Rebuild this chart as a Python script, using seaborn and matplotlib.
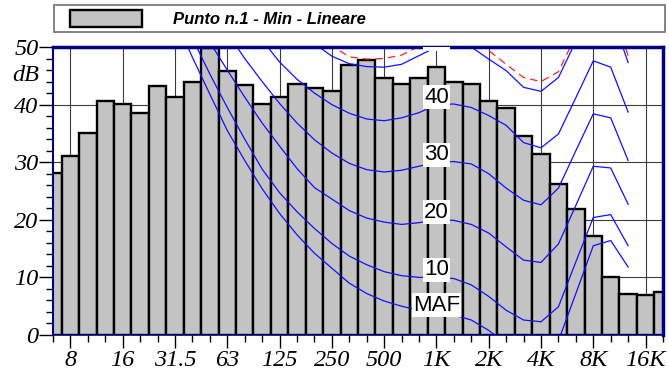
import numpy as np
import pandas as pd
import matplotlib
matplotlib.use("Agg")
import matplotlib.pyplot as plt
import seaborn as sns
from matplotlib.patches import Rectangle
from matplotlib.ticker import MultipleLocator, FixedLocator
from matplotlib import font_manager as fm

# ---------------- data ----------------
bands = ['6.3', '8', '10', '12.5', '16', '20', '25', '31.5', '40', '50', '63', '80',
         '100', '125', '160', '200', '250', '315', '400', '500', '630', '800',
         '1K', '1.25K', '1.6K', '2K', '2.5K', '3.15K', '4K', '5K', '6.3K', '8K',
         '10K', '12.5K', '16K', '20K']
levels_db = [28.1, 31.1, 35.0, 40.6, 40.1, 38.6, 43.3, 41.4, 44.0, 49.8, 45.8, 43.4,
             40.1, 41.3, 43.6, 42.9, 42.4, 46.8, 47.8, 44.6, 43.6, 44.7,
             46.6, 44.0, 43.5, 40.7, 39.4, 34.5, 31.4, 26.2, 21.9, 17.2,
             10.1, 7.2, 6.9, 7.5]

tick_labels = ['8', '16', '31.5', '63', '125', '250', '500', '1K', '2K', '4K', '8K', '16K']
yticks = [0, 10, 20, 30, 40, 50]

# equal-loudness contours (dB at consecutive 1/3-octave bands, from start band)
maf_start = '31.5'
maf_db = [55.0, 48.2, 41.8, 35.5, 30.3, 25.4, 21.1, 17.4, 14.2, 11.6, 9.0, 7.2, 5.9, 5.0,
          4.3, 3.9, 3.5, 2.6, 0.8, -1.5, -3.5, -4.5, -1.0, 7.2, 15.5, 16.4, 11.8]
iso10_start = '31.5'
iso10_db = [58.0, 51.5, 45.3, 39.5, 34.0, 28.8, 24.7, 21.4, 18.5, 15.9, 13.7, 12.2, 11.0, 10.3,
            10.0, 10.0, 9.8, 8.7, 6.7, 4.3, 2.6, 2.3, 4.9, 12.7, 20.4, 20.9, 15.5]
iso20_start = '40'
iso20_db = [57.0, 50.8, 46.0, 41.3, 36.8, 32.8, 28.9, 25.6, 23.6, 21.6, 20.3, 19.6, 19.2,
            19.5, 20.0, 19.9, 19.2, 17.7, 15.3, 13.0, 12.6, 15.8, 22.5, 29.3, 29.0, 22.7]
iso30_start = '50'
iso30_db = [57.0, 52.5, 48.0, 44.0, 40.2, 36.8, 33.9, 31.6, 29.8, 28.7, 28.3, 28.6, 29.3,
            30.0, 30.1, 29.7, 28.0, 25.5, 23.4, 22.6, 25.5, 32.0, 38.4, 37.7, 30.3]
iso40_start = '63'
iso40_db = [60.0, 55.5, 51.2, 47.4, 44.4, 42.0, 40.0, 38.5, 37.5, 37.2, 37.7, 38.6,
            40.0, 40.1, 39.5, 38.1, 36.4, 33.4, 32.5, 34.9, 41.2, 47.6, 46.5, 38.7]
iso50_start = '100'
iso50_db = [60.0, 56.5, 53.3, 50.6, 48.4, 47.1, 46.6, 46.5, 47.0, 48.5, 50.0, 51.3,
            50.0, 47.9, 45.9, 43.0, 42.3, 44.7, 51.0, 57.3, 56.0, 47.3]
loud_start = '160'
loud_db = [57.0, 52.5, 50.2, 48.3, 47.9, 48.0, 48.6, 50.1, 51.5, 52.8, 51.3, 49.4,
           47.0, 44.7, 44.0, 45.7, 52.0, 58.5, 57.3, 48.5]

contour_names = ['MAF', '10', '20', '30', '40', '50']
contour_starts = [maf_start, iso10_start, iso20_start, iso30_start, iso40_start, iso50_start]
contour_values = [maf_db, iso10_db, iso20_db, iso30_db, iso40_db, iso50_db]
label_band = '1K'
legend_label = 'Punto n.1 - Min - Lineare'


# ---------------- fonts ----------------
def find_font(families, style='normal', weight='normal'):
    for fam in families:
        try:
            path = fm.findfont(fm.FontProperties(family=fam, style=style, weight=weight),
                               fallback_to_default=False)
        except Exception:
            continue
        name = path.lower()
        ok_style = (style == 'normal') or ('italic' in name) or ('oblique' in name) or name.endswith('i.ttf')
        if ok_style:
            return fm.FontProperties(fname=path)
    return fm.FontProperties(family='DejaVu Serif', style=style, weight=weight)


serif_it = find_font(['Liberation Serif', 'Noto Serif', 'DejaVu Serif'], style='italic')
sans_bi = find_font(['Liberation Sans', 'Roboto', 'DejaVu Sans'], style='italic', weight='bold')
sans_bi.set_size(12)
sans_rg = fm.FontProperties(family='Liberation Sans')

# ---------------- figure ----------------
W, H = 669, 372
fig = plt.figure(figsize=(W / 100, H / 100), dpi=100)
ax = fig.add_axes([53 / W, 37 / H, 610 / W, 288 / H])

bar_color = '#c3c3c3'
df = pd.DataFrame({'band': bands, 'db': levels_db})
sns.barplot(data=df, x='band', y='db', order=bands, color=bar_color, saturation=1,
            width=1.0, edgecolor='black', linewidth=1.7, ax=ax, zorder=2)
for p in ax.patches:
    p.set_facecolor(bar_color)


def positions(start, vals):
    i0 = bands.index(start)
    return list(range(i0, i0 + len(vals)))


for name, start, vals in zip(contour_names, contour_starts, contour_values):
    sns.lineplot(x=positions(start, vals), y=vals, ax=ax, color='#1010ff', lw=0.9,
                 sort=False, estimator=None, zorder=3)
    i1k = bands.index(label_band) - bands.index(start)
    ax.text(bands.index(label_band), vals[i1k] + 1.3, name, ha='center', va='center',
            fontproperties=sans_rg, fontsize=16, zorder=5, clip_on=True,
            bbox=dict(boxstyle='square,pad=0.06', fc='white', ec='none'))

sns.lineplot(x=positions(loud_start, loud_db), y=loud_db, ax=ax, color='#ff2020', lw=0.9,
             sort=False, estimator=None, zorder=3, dashes=False, linestyle=(0, (6, 4)))

ax.set_xlim(0, len(bands) - 1)
ax.set_ylim(0, 50)
ax.set_xlabel('')
ax.set_ylabel('')

ax.xaxis.set_major_locator(FixedLocator([bands.index(t) for t in tick_labels]))
ax.set_xticklabels(tick_labels)
ax.xaxis.set_minor_locator(FixedLocator(range(len(bands))))
ax.set_yticks(yticks)
ax.set_yticklabels([str(v) for v in yticks])
ax.yaxis.set_minor_locator(MultipleLocator(2))

ax.tick_params(axis='x', which='major', length=9.5, width=1, color='black', pad=1.5)
ax.tick_params(axis='y', which='major', length=10, width=1, color='black', pad=0.5)
ax.tick_params(axis='both', which='minor', length=5, width=1, color='black')
for lab in ax.get_xticklabels() + ax.get_yticklabels():
    lab.set_fontproperties(serif_it)
    lab.set_fontsize(17.5)

ax.annotate('dB', xy=(0, 45), xycoords=('axes fraction', 'data'), xytext=(-10, 0),
            textcoords='offset points', ha='right', va='center',
            fontproperties=serif_it, fontsize=17.5)

ax.grid(True, which='major', color='#3c3c3c', lw=0.8)
ax.set_axisbelow(True)

for side, lw in [('top', 2.5), ('right', 2.5), ('left', 1.5), ('bottom', 1.2)]:
    ax.spines[side].set_color('#000080')
    ax.spines[side].set_linewidth(lw)
    ax.spines[side].set_zorder(4)

# legend box at top
fig.patches.append(Rectangle((54 / W, 1 - 32 / H), 611 / W, 27 / H, transform=fig.transFigure,
                             fc='white', ec='#7a7a7a', lw=1.3, zorder=-1))
handle = Rectangle((0, 0), 1, 1, fc=bar_color, ec='black', lw=1.7)
leg = fig.legend([handle], [legend_label], loc='center left', bbox_to_anchor=(70 / W, 1 - 18.5 / H),
                 frameon=False, borderpad=0, borderaxespad=0,
                 handlelength=4.3, handleheight=1.25, handletextpad=1.9,
                 prop=sans_bi)

fig.savefig('out.png', dpi=100)
